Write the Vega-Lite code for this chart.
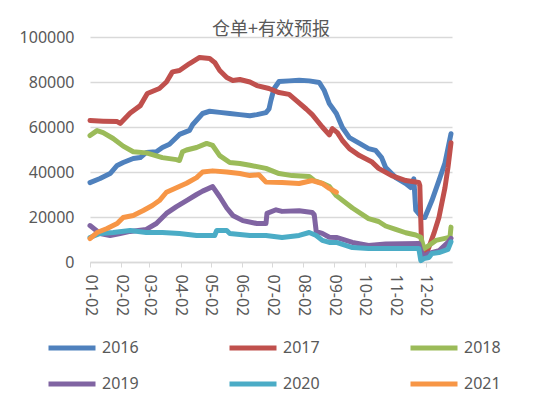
{
  "$schema": "https://vega.github.io/schema/vega-lite/v6.json",
  "autosize": "none",
  "width": 362,
  "height": 225,
  "padding": {"left": 90, "top": 37, "right": 98, "bottom": 136},
  "background": "white",
  "title": {"text": "仓单+有效预报", "font": "Noto Sans CJK SC", "fontSize": 18, "fontWeight": "normal", "color": "#595959", "anchor": "middle", "offset": 4, "dy": 14},
  "config": {"view": {"stroke": null}},
  "datasets": {
    "raw": [
      {"s":"2016","d":"2021/01/02","v":35300},{"s":"2016","d":"2021/01/12","v":37100},{"s":"2016","d":"2021/01/22","v":39300},{"s":"2016","d":"2021/01/29","v":42900},{"s":"2016","d":"2021/02/04","v":44200},{"s":"2016","d":"2021/02/14","v":46000},{"s":"2016","d":"2021/02/21","v":46400},{"s":"2016","d":"2021/02/27","v":48700},{"s":"2016","d":"2021/03/09","v":49000},{"s":"2016","d":"2021/03/15","v":50900},{"s":"2016","d":"2021/03/22","v":52300},{"s":"2016","d":"2021/04/01","v":56700},{"s":"2016","d":"2021/04/11","v":58500},{"s":"2016","d":"2021/04/14","v":61000},{"s":"2016","d":"2021/04/24","v":66000},{"s":"2016","d":"2021/05/01","v":67000},{"s":"2016","d":"2021/05/11","v":66500},{"s":"2016","d":"2021/05/21","v":66000},{"s":"2016","d":"2021/05/31","v":65500},{"s":"2016","d":"2021/06/10","v":65000},{"s":"2016","d":"2021/06/17","v":65500},{"s":"2016","d":"2021/06/26","v":66400},{"s":"2016","d":"2021/06/29","v":68000},{"s":"2016","d":"2021/07/01","v":72000},{"s":"2016","d":"2021/07/04","v":77000},{"s":"2016","d":"2021/07/09","v":80200},{"s":"2016","d":"2021/07/19","v":80500},{"s":"2016","d":"2021/07/29","v":80800},{"s":"2016","d":"2021/08/08","v":80500},{"s":"2016","d":"2021/08/18","v":79800},{"s":"2016","d":"2021/08/23","v":76200},{"s":"2016","d":"2021/08/28","v":70400},{"s":"2016","d":"2021/09/04","v":66000},{"s":"2016","d":"2021/09/10","v":59800},{"s":"2016","d":"2021/09/17","v":55300},{"s":"2016","d":"2021/09/27","v":52700},{"s":"2016","d":"2021/10/06","v":50400},{"s":"2016","d":"2021/10/13","v":49600},{"s":"2016","d":"2021/10/19","v":46400},{"s":"2016","d":"2021/10/23","v":42000},{"s":"2016","d":"2021/11/02","v":37500},{"s":"2016","d":"2021/11/12","v":34900},{"s":"2016","d":"2021/11/17","v":33100},{"s":"2016","d":"2021/11/20","v":37000},{"s":"2016","d":"2021/11/22","v":23000},{"s":"2016","d":"2021/11/28","v":19800},{"s":"2016","d":"2021/12/01","v":19800},{"s":"2016","d":"2021/12/08","v":27300},{"s":"2016","d":"2021/12/15","v":36200},{"s":"2016","d":"2021/12/21","v":44000},{"s":"2016","d":"2021/12/27","v":57000},
      {"s":"2017","d":"2021/01/02","v":62900},{"s":"2017","d":"2021/01/15","v":62600},{"s":"2017","d":"2021/01/29","v":62400},{"s":"2017","d":"2021/02/01","v":61600},{"s":"2017","d":"2021/02/11","v":66200},{"s":"2017","d":"2021/02/21","v":69500},{"s":"2017","d":"2021/02/28","v":74900},{"s":"2017","d":"2021/03/12","v":77100},{"s":"2017","d":"2021/03/19","v":80000},{"s":"2017","d":"2021/03/25","v":84500},{"s":"2017","d":"2021/04/01","v":85100},{"s":"2017","d":"2021/04/11","v":88200},{"s":"2017","d":"2021/04/21","v":90900},{"s":"2017","d":"2021/05/01","v":90400},{"s":"2017","d":"2021/05/06","v":88700},{"s":"2017","d":"2021/05/11","v":85100},{"s":"2017","d":"2021/05/18","v":82000},{"s":"2017","d":"2021/05/24","v":80700},{"s":"2017","d":"2021/05/31","v":81100},{"s":"2017","d":"2021/06/10","v":80000},{"s":"2017","d":"2021/06/17","v":78400},{"s":"2017","d":"2021/06/29","v":77100},{"s":"2017","d":"2021/07/09","v":75300},{"s":"2017","d":"2021/07/19","v":74500},{"s":"2017","d":"2021/07/26","v":71800},{"s":"2017","d":"2021/08/05","v":68000},{"s":"2017","d":"2021/08/11","v":65500},{"s":"2017","d":"2021/08/21","v":60000},{"s":"2017","d":"2021/08/28","v":56500},{"s":"2017","d":"2021/08/31","v":59300},{"s":"2017","d":"2021/09/05","v":57500},{"s":"2017","d":"2021/09/10","v":54000},{"s":"2017","d":"2021/09/17","v":50400},{"s":"2017","d":"2021/09/27","v":47300},{"s":"2017","d":"2021/10/09","v":44600},{"s":"2017","d":"2021/10/16","v":41600},{"s":"2017","d":"2021/10/29","v":38400},{"s":"2017","d":"2021/11/12","v":36200},{"s":"2017","d":"2021/11/25","v":35300},{"s":"2017","d":"2021/11/26","v":34000},{"s":"2017","d":"2021/11/28","v":3000},{"s":"2017","d":"2021/12/01","v":2500},{"s":"2017","d":"2021/12/05","v":6500},{"s":"2017","d":"2021/12/10","v":12700},{"s":"2017","d":"2021/12/15","v":19800},{"s":"2017","d":"2021/12/21","v":33000},{"s":"2017","d":"2021/12/24","v":42000},{"s":"2017","d":"2021/12/27","v":53000},
      {"s":"2018","d":"2021/01/02","v":56200},{"s":"2018","d":"2021/01/09","v":58400},{"s":"2018","d":"2021/01/15","v":57500},{"s":"2018","d":"2021/01/25","v":54900},{"s":"2018","d":"2021/02/04","v":51500},{"s":"2018","d":"2021/02/14","v":49000},{"s":"2018","d":"2021/02/27","v":48500},{"s":"2018","d":"2021/03/15","v":46400},{"s":"2018","d":"2021/03/29","v":45500},{"s":"2018","d":"2021/04/01","v":45100},{"s":"2018","d":"2021/04/04","v":49000},{"s":"2018","d":"2021/04/08","v":49800},{"s":"2018","d":"2021/04/18","v":50900},{"s":"2018","d":"2021/04/28","v":52700},{"s":"2018","d":"2021/05/04","v":51800},{"s":"2018","d":"2021/05/11","v":47300},{"s":"2018","d":"2021/05/21","v":44200},{"s":"2018","d":"2021/05/31","v":43800},{"s":"2018","d":"2021/06/10","v":43000},{"s":"2018","d":"2021/06/26","v":41600},{"s":"2018","d":"2021/07/09","v":39300},{"s":"2018","d":"2021/07/22","v":38400},{"s":"2018","d":"2021/08/08","v":38000},{"s":"2018","d":"2021/08/13","v":36200},{"s":"2018","d":"2021/08/21","v":35000},{"s":"2018","d":"2021/08/28","v":33500},{"s":"2018","d":"2021/09/04","v":29500},{"s":"2018","d":"2021/09/20","v":24000},{"s":"2018","d":"2021/10/06","v":19300},{"s":"2018","d":"2021/10/16","v":18000},{"s":"2018","d":"2021/10/23","v":16000},{"s":"2018","d":"2021/11/02","v":14500},{"s":"2018","d":"2021/11/12","v":13000},{"s":"2018","d":"2021/11/22","v":12000},{"s":"2018","d":"2021/11/27","v":11000},{"s":"2018","d":"2021/11/30","v":6000},{"s":"2018","d":"2021/12/05","v":7300},{"s":"2018","d":"2021/12/12","v":9600},{"s":"2018","d":"2021/12/21","v":10500},{"s":"2018","d":"2021/12/26","v":11000},{"s":"2018","d":"2021/12/27","v":15500},
      {"s":"2019","d":"2021/01/02","v":16200},{"s":"2019","d":"2021/01/12","v":12700},{"s":"2019","d":"2021/01/22","v":11800},{"s":"2019","d":"2021/02/01","v":12700},{"s":"2019","d":"2021/02/11","v":13600},{"s":"2019","d":"2021/02/27","v":14500},{"s":"2019","d":"2021/03/09","v":17100},{"s":"2019","d":"2021/03/19","v":21600},{"s":"2019","d":"2021/03/29","v":24600},{"s":"2019","d":"2021/04/08","v":27300},{"s":"2019","d":"2021/04/18","v":30000},{"s":"2019","d":"2021/04/24","v":31500},{"s":"2019","d":"2021/05/04","v":33500},{"s":"2019","d":"2021/05/11","v":29000},{"s":"2019","d":"2021/05/18","v":24000},{"s":"2019","d":"2021/05/24","v":20700},{"s":"2019","d":"2021/06/03","v":18400},{"s":"2019","d":"2021/06/17","v":17100},{"s":"2019","d":"2021/06/26","v":17100},{"s":"2019","d":"2021/06/27","v":21600},{"s":"2019","d":"2021/07/06","v":23200},{"s":"2019","d":"2021/07/12","v":22500},{"s":"2019","d":"2021/07/29","v":22800},{"s":"2019","d":"2021/08/11","v":22000},{"s":"2019","d":"2021/08/13","v":21000},{"s":"2019","d":"2021/08/15","v":13500},{"s":"2019","d":"2021/08/21","v":12700},{"s":"2019","d":"2021/08/28","v":11000},{"s":"2019","d":"2021/09/04","v":10900},{"s":"2019","d":"2021/09/20","v":8700},{"s":"2019","d":"2021/10/06","v":7300},{"s":"2019","d":"2021/10/23","v":8000},{"s":"2019","d":"2021/11/25","v":8200},{"s":"2019","d":"2021/11/27","v":5000},{"s":"2019","d":"2021/11/30","v":2500},{"s":"2019","d":"2021/12/05","v":3800},{"s":"2019","d":"2021/12/15","v":5000},{"s":"2019","d":"2021/12/24","v":8700},{"s":"2019","d":"2021/12/27","v":10500},
      {"s":"2020","d":"2021/01/02","v":10900},{"s":"2020","d":"2021/01/12","v":12700},{"s":"2020","d":"2021/01/25","v":13100},{"s":"2020","d":"2021/02/11","v":14000},{"s":"2020","d":"2021/02/27","v":13100},{"s":"2020","d":"2021/03/15","v":13100},{"s":"2020","d":"2021/04/01","v":12700},{"s":"2020","d":"2021/04/18","v":11800},{"s":"2020","d":"2021/05/06","v":11800},{"s":"2020","d":"2021/05/08","v":14000},{"s":"2020","d":"2021/05/18","v":14000},{"s":"2020","d":"2021/05/21","v":12700},{"s":"2020","d":"2021/06/10","v":11800},{"s":"2020","d":"2021/06/26","v":11800},{"s":"2020","d":"2021/07/12","v":10900},{"s":"2020","d":"2021/07/29","v":11800},{"s":"2020","d":"2021/08/08","v":13100},{"s":"2020","d":"2021/08/15","v":11800},{"s":"2020","d":"2021/08/21","v":9600},{"s":"2020","d":"2021/08/28","v":8700},{"s":"2020","d":"2021/09/04","v":8700},{"s":"2020","d":"2021/09/20","v":6400},{"s":"2020","d":"2021/10/06","v":6000},{"s":"2020","d":"2021/11/25","v":6000},{"s":"2020","d":"2021/11/27","v":600},{"s":"2020","d":"2021/11/30","v":1500},{"s":"2020","d":"2021/12/05","v":2000},{"s":"2020","d":"2021/12/08","v":3800},{"s":"2020","d":"2021/12/15","v":4200},{"s":"2020","d":"2021/12/24","v":5600},{"s":"2020","d":"2021/12/27","v":9000},
      {"s":"2021","d":"2021/01/02","v":10400},{"s":"2021","d":"2021/01/09","v":13100},{"s":"2021","d":"2021/01/19","v":14900},{"s":"2021","d":"2021/01/29","v":17100},{"s":"2021","d":"2021/02/04","v":19800},{"s":"2021","d":"2021/02/14","v":20700},{"s":"2021","d":"2021/02/24","v":22900},{"s":"2021","d":"2021/03/05","v":25100},{"s":"2021","d":"2021/03/12","v":27300},{"s":"2021","d":"2021/03/19","v":31000},{"s":"2021","d":"2021/03/29","v":33000},{"s":"2021","d":"2021/04/08","v":35000},{"s":"2021","d":"2021/04/18","v":37500},{"s":"2021","d":"2021/04/24","v":40000},{"s":"2021","d":"2021/05/04","v":40500},{"s":"2021","d":"2021/05/18","v":40000},{"s":"2021","d":"2021/05/31","v":39300},{"s":"2021","d":"2021/06/10","v":38400},{"s":"2021","d":"2021/06/19","v":38800},{"s":"2021","d":"2021/06/26","v":35500},{"s":"2021","d":"2021/07/12","v":35300},{"s":"2021","d":"2021/07/29","v":34900},{"s":"2021","d":"2021/08/11","v":36200},{"s":"2021","d":"2021/08/21","v":34900},{"s":"2021","d":"2021/08/28","v":32700},{"s":"2021","d":"2021/09/04","v":31000}
    ]
  },
  "data": {"name": "raw"},
  "mark": {"type": "line", "strokeWidth": 5, "strokeJoin": "round", "strokeCap": "round"},
  "encoding": {
    "x": {
      "field": "d", "type": "temporal",
      "scale": {"domain": [{"year": 2021, "month": 1, "date": 2}, {"year": 2021, "month": 12, "date": 28}]},
      "axis": {
        "title": null, "format": "%m-%d", "labelAngle": 90, "labelFont": "Noto Sans", "labelFontSize": 16, "labelColor": "#595959",
        "labelPadding": 7, "tickSize": 5, "tickColor": "#d9d9d9", "domainColor": "#d9d9d9", "domainWidth": 1.5, "grid": false, "labelFlush": false, "labelOverlap": false,
        "values": [
          {"year": 2021, "month": 1, "date": 2}, {"year": 2021, "month": 2, "date": 2}, {"year": 2021, "month": 3, "date": 2},
          {"year": 2021, "month": 4, "date": 2}, {"year": 2021, "month": 5, "date": 2}, {"year": 2021, "month": 6, "date": 2},
          {"year": 2021, "month": 7, "date": 2}, {"year": 2021, "month": 8, "date": 2}, {"year": 2021, "month": 9, "date": 2},
          {"year": 2021, "month": 10, "date": 2}, {"year": 2021, "month": 11, "date": 2}, {"year": 2021, "month": 12, "date": 2}
        ]
      }
    },
    "y": {
      "field": "v", "type": "quantitative",
      "scale": {"domain": [0, 100000], "nice": false},
      "axis": {
        "title": null, "values": [0, 20000, 40000, 60000, 80000, 100000], "format": "d",
        "labelFont": "Noto Sans", "labelFontSize": 16, "labelColor": "#595959", "labelPadding": 16,
        "ticks": false, "domain": false, "gridColor": "#d9d9d9", "gridWidth": 1.5
      }
    },
    "color": {
      "field": "s", "type": "nominal",
      "scale": {"domain": ["2016", "2017", "2018", "2019", "2020", "2021"], "range": ["#4F81BD", "#C0504D", "#9BBB59", "#8064A2", "#4BACC6", "#F79646"]},
      "legend": {
        "title": null, "orient": "none", "legendX": -44, "legendY": 285, "direction": "horizontal", "columns": 3,
        "symbolType": "stroke", "symbolSize": 2209, "symbolStrokeWidth": 5, "labelFont": "Noto Sans", "labelFontSize": 16,
        "labelColor": "#595959", "labelOffset": 4, "columnPadding": 80, "rowPadding": -2, "padding": 0
      }
    }
  }
}
